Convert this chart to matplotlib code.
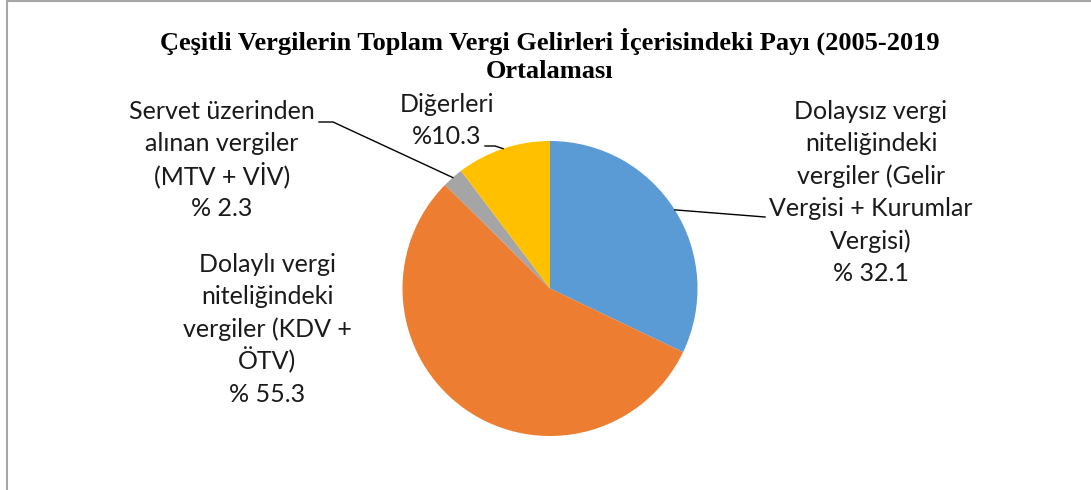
import matplotlib.pyplot as plt
import numpy as np
from matplotlib.lines import Line2D

# data
labels = [["Dolaysız vergi", "niteliğindeki", "vergiler (Gelir", "Vergisi + Kurumlar", "Vergisi)", "% 32.1"],
          ["Dolaylı vergi", "niteliğindeki", "vergiler (KDV +", "ÖTV)", "% 55.3"],
          ["Servet üzerinden", "alınan vergiler", "(MTV + VİV)", "% 2.3"],
          ["Diğerleri", "%10.3"]]
shares = [32.1, 55.3, 2.3, 10.3]
colors = ["#5B9BD5", "#ED7D31", "#A5A5A5", "#FFC000"]
title = "Çeşitli Vergilerin Toplam Vergi Gelirleri İçerisindeki Payı (2005-2019\nOrtalaması"

W, H = 1091, 490
fig = plt.figure(figsize=(W / 100, H / 100), dpi=100)
ax = fig.add_axes([0, 0, 1, 1])

cx, cy, r = 550, H - 288.5, 147.5
wedges, _ = ax.pie(shares, colors=colors, startangle=90, counterclock=False,
                   center=(cx, cy), radius=r, frame=True,
                   wedgeprops=dict(linewidth=0))
ax.set_xlim(0, W)
ax.set_ylim(0, H)
ax.set_aspect("equal")
ax.axis("off")

# label positions (center x, first line y from top) and leader line start points
label_pos = [(871, 112), (267, 265), (222, 112), (447, 105)]
leader_from = [[(765, 217)], None, [(319, 122), (333, 122)], [(485, 146), (495, 146)]]
step = 32.4

for w, lines, (tx, ty), lf in zip(wedges, labels, label_pos, leader_from):
    for i, line in enumerate(lines):
        ax.text(tx, H - (ty + i * step + 7), line, ha="center", va="baseline",
                fontsize=18, family="Lato", color="#1a1a1a")
    if lf is None:
        continue
    mid = np.deg2rad((w.theta1 + w.theta2) / 2)
    ex = cx + r * np.cos(mid)
    ey = cy + r * np.sin(mid)
    xs = [p[0] for p in lf] + [ex]
    ys = [H - p[1] for p in lf] + [ey]
    ax.plot(xs, ys, color="black", lw=1)

ax.text(550, H - 55, title, ha="center", va="center", fontsize=19,
        family="Liberation Serif", fontweight="bold", linespacing=1.3)

# chart area border (top and left only visible)
fig.add_artist(Line2D([7 / W, 1], [1 - 1.5 / H, 1 - 1.5 / H], color="#A6A6A6", lw=1.5))
fig.add_artist(Line2D([7 / W, 7 / W], [0, 1 - 1.5 / H], color="#A6A6A6", lw=1.5))

fig.savefig("out.png", dpi=100)
